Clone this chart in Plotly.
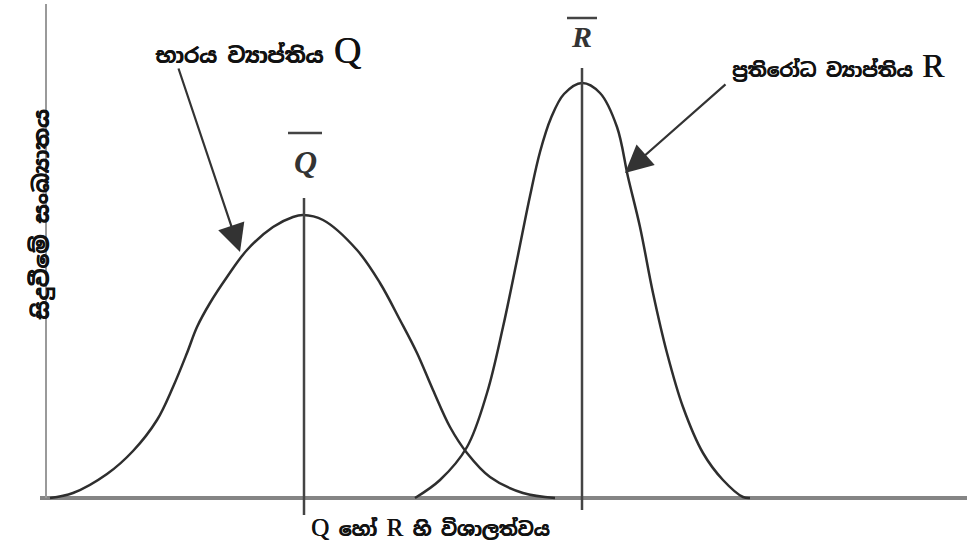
import plotly.graph_objects as go

# Load (Q) and resistance (R) frequency curves, magnitude vs. frequency of occurrence
q_magnitude = [4, 27, 61, 87, 111, 127, 141, 151, 164, 181, 201, 227, 247, 257,
               277, 311, 334, 354, 371, 387, 404, 421, 444, 477, 509]
q_frequency = [0, 5, 24, 47, 78, 111, 145, 171, 195, 221, 248, 271, 281, 283,
               278, 248, 215, 178, 145, 108, 71, 45, 21, 5, 0]

r_magnitude = [369, 394, 421, 441, 457, 471, 484, 494, 505, 518, 536,
               554, 571, 582, 594, 607, 621, 637, 657, 677, 697, 704]
r_frequency = [0, 18, 51, 105, 171, 238, 302, 346, 380, 404, 415,
               405, 371, 321, 271, 205, 145, 91, 45, 18, 1, 0]

q_mean = 257
r_mean = 536

label_q = "භාරය ව්‍යාප්තිය"
label_r = "ප්‍රතිරෝධ ව්‍යාප්තිය"
x_title_or = "හෝ"
x_title_rest = "හි විශාලත්වය"
y_title = "සිදුවීමේ සංඛ්‍යාතය"

INK = "#2e2e2e"
SIN_FONT = "Noto Sans Sinhala, Noto Sans, DejaVu Sans, sans-serif"
SERIF = "Liberation Serif, DejaVu Serif, serif"
HEAVY = "0.6px 0px 0px #111"

fig = go.Figure()
for xs, ys in ((q_magnitude, q_frequency), (r_magnitude, r_frequency)):
    fig.add_trace(go.Scatter(x=xs, y=ys, mode="lines",
                             line=dict(color=INK, width=2.5, shape="spline", smoothing=1.0),
                             hoverinfo="skip"))

# Mean markers
fig.add_shape(type="line", x0=q_mean + 1, x1=q_mean + 1, y0=-17, y1=300,
              line=dict(color="#444", width=2.5))
fig.add_shape(type="line", x0=r_mean, x1=r_mean, y0=-12, y1=430,
              line=dict(color="#444", width=2.5))

# Vertical axis
fig.add_shape(type="line", x0=0, x1=0, y0=0, y1=494,
              line=dict(color="#9a9a9a", width=2))

# Mean symbols with overbars
fig.add_annotation(x=q_mean + 2, y=336, text="<b><i>Q</i></b>", showarrow=False,
                   font=dict(family=SERIF, size=32, color="#333"))
fig.add_shape(type="line", x0=q_mean - 15, x1=q_mean + 19, y0=365, y1=365,
              line=dict(color="#444", width=2.5))
fig.add_annotation(x=r_mean - 1, y=462, text="<b><i>R</i></b>", showarrow=False,
                   font=dict(family=SERIF, size=30, color="#333"))
fig.add_shape(type="line", x0=r_mean - 15, x1=r_mean + 15, y0=480, y1=480,
              line=dict(color="#444", width=2.5))

# Curve labels
fig.add_annotation(x=107, y=448, xanchor="left", showarrow=False,
                   text=f"<b>{label_q}</b> <span style='font-family:{SERIF};font-size:38px'>Q</span>",
                   font=dict(family=SIN_FONT, size=21, color="#111", shadow=HEAVY))
fig.add_annotation(x=684, y=432, xanchor="left", showarrow=False,
                   text=f"<b>{label_r}</b> <span style='font-family:{SERIF};font-size:33px'>R</span>",
                   font=dict(family=SIN_FONT, size=19, color="#111", shadow=HEAVY))

# Arrows
fig.add_annotation(x=194, y=246, ax=132, ay=431, axref="x", ayref="y",
                   text="", showarrow=True, arrowhead=2, arrowsize=2.5,
                   arrowwidth=2.2, arrowcolor="#333")
fig.add_annotation(x=579, y=325, ax=681, ay=415, axref="x", ayref="y",
                   text="", showarrow=True, arrowhead=2, arrowsize=2.5,
                   arrowwidth=2.2, arrowcolor="#333")

# Axis titles
fig.add_annotation(x=384, y=-30, showarrow=False,
                   text=f"<span style='font-family:{SERIF};font-size:25px'>Q</span> <b>{x_title_or}</b> "
                        f"<span style='font-family:{SERIF};font-size:25px'>R</span> <b>{x_title_rest}</b>",
                   font=dict(family=SIN_FONT, size=19, color="#111", shadow=HEAVY))
fig.add_annotation(xref="paper", x=-15 / 927, y=283, showarrow=False, textangle=-90,
                   text=f"<b>{y_title}</b>",
                   font=dict(family=SIN_FONT, size=22, color="#111", shadow=HEAVY))

fig.update_layout(
    width=967, height=544,
    margin=dict(l=40, r=0, t=0, b=0),
    paper_bgcolor="white", plot_bgcolor="white",
    showlegend=False,
    xaxis=dict(range=[-6, 921], visible=False, fixedrange=True),
    yaxis=dict(range=[-46, 498], showgrid=False, showticklabels=False, ticks="",
               zeroline=True, zerolinecolor="#858585", zerolinewidth=4,
               showline=False, fixedrange=True),
)

fig.write_html("out.html")
